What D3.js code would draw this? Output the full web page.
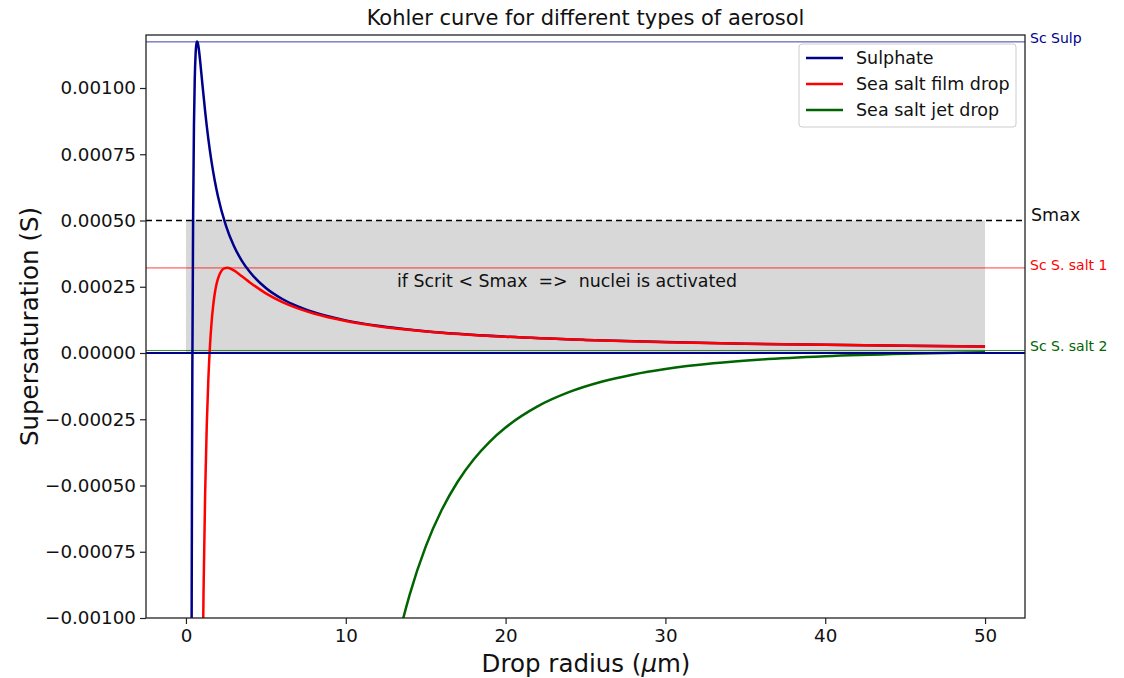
<!DOCTYPE html>
<html><head><meta charset="utf-8">
<script src="https://cdn.jsdelivr.net/npm/d3@7"></script>
<style>
body{margin:0;background:#fff;}
text{font-family:"DejaVu Sans",sans-serif;}
</style></head>
<body><svg id="c" width="1124" height="678"></svg>
<script>
// ---- data ----
const sulphateR = [0.35,0.36,0.38,0.40,0.45,0.5,0.55,0.6,0.65,0.7,0.75,0.8,0.9,1.0,1.2,1.4,1.6,1.8,2.0,2.5,3,3.5,4,5,6,7,8,10,12,15,20,25,30,35,40,45,50];
const sulphateS = [-0.001174,-0.000891,-0.000425,-0.0000634,0.000531,0.000856,0.0010325,0.0011238,0.0011648,0.0011754,0.0011677,0.0011489,0.0010947,0.0010325,0.0009117,0.000808,0.0007221,0.000651,0.0005918,0.0004807,0.0004039,0.0003479,0.0003054,0.0002452,0.0002047,0.0001757,0.0001539,0.0001232,0.0001027,0.0000822,0.0000617,0.0000494,0.0000411,0.0000353,0.0000309,0.0000274,0.0000247];
const filmR = [1.0,1.1,1.2,1.3,1.4,1.5,1.6,1.7,1.8,1.9,2.0,2.2,2.4,2.6,2.8,3.0,3.5,4,5,6,7,8,10,12,15,20,25,30,35,40,45,50];
const filmS = [-0.001461,-0.000903,-0.000531,-0.0002775,-0.0001007,0.0000242,0.0001133,0.0001773,0.0002234,0.0002566,0.0002801,0.0003078,0.0003192,0.0003213,0.0003179,0.0003115,0.0002897,0.0002664,0.0002252,0.0001932,0.0001684,0.000149,0.0001207,0.0001013,0.0000815,0.0000614,0.0000492,0.000041,0.0000352,0.0000308,0.0000274,0.0000247];
const jetR = [13,13.6,14,15,16,17,18,19,20,22,24,26,28,30,33,36,40,45,50];
const jetS = [-0.0011536,-0.001,-0.0009115,-0.0007305,-0.0005926,-0.0004857,-0.0004018,-0.000335,-0.0002812,-0.0002015,-0.000147,-0.0001086,-0.0000809,-0.0000605,-0.0000389,-0.0000245,-0.000012,-0.0000027,0.0000027];
const seriesNames = ["Sulphate","Sea salt film drop","Sea salt jet drop"];
const seriesColors = ["#00008b","#ff0000","#006400"];
const scCrit = [0.001174, 0.000321, 0.0000095];
const scLabels = ["Sc Sulp","Sc S. salt 1","Sc S. salt 2"];
const smax = 0.0005;
const shadeR = [0, 50];
const xTicks = [0,10,20,30,40,50];
const yTicks = [-0.001,-0.00075,-0.0005,-0.00025,0,0.00025,0.0005,0.00075,0.001];

// ---- layout ----
const L=146,R=1025,T=35,B=618;
const svg=d3.select("#c");
const x=d3.scaleLinear().domain([-2.5,52.5]).range([L,R]);
const y=d3.scaleLinear().domain([-0.001,0.0012]).range([B,T]);

svg.append("clipPath").attr("id","clip").append("rect")
  .attr("x",L).attr("y",T).attr("width",R-L).attr("height",B-T);
const g=svg.append("g").attr("clip-path","url(#clip)");

// shaded area
g.append("path").datum(shadeR)
  .attr("d",d3.area().x(d=>x(d)).y0(y(0)).y1(y(smax)))
  .attr("fill","#d8d8d8");

// Smax dashed
g.append("line").attr("x1",L).attr("x2",R).attr("y1",y(smax)).attr("y2",y(smax))
  .attr("stroke","#000").attr("stroke-width",1.5).attr("stroke-dasharray","6,4");

// Sc lines
scCrit.forEach((v,i)=>{
  g.append("line").attr("x1",L).attr("x2",R).attr("y1",y(v)).attr("y2",y(v))
   .attr("stroke",seriesColors[i]).attr("stroke-width",1).attr("opacity",0.75);
});

const line=d3.line().x(d=>x(d[0])).y(d=>y(d[1]));
const series=[[sulphateR,sulphateS],[filmR,filmS],[jetR,jetS]];
series.forEach((s,i)=>{
  const pts=s[0].map((r,k)=>[r,s[1][k]]);
  g.append("path").datum(pts).attr("d",line.curve(d3.curveMonotoneX))
   .attr("fill","none").attr("stroke",seriesColors[i]).attr("stroke-width",2.5);
});

// zero line
g.append("line").attr("x1",L).attr("x2",R).attr("y1",y(0)).attr("y2",y(0))
  .attr("stroke","#00008b").attr("stroke-width",2.2);

// annotation
svg.append("text").attr("x",397).attr("y",287).attr("font-size",17.4).attr("fill","#111")
  .attr("xml:space","preserve").text("if Scrit < Smax  =>  nuclei is activated");

// axes frame
svg.append("rect").attr("x",L).attr("y",T).attr("width",R-L).attr("height",B-T)
  .attr("fill","none").attr("stroke","#222").attr("stroke-width",1.3);

// axes
const fmt=d3.format(".5f");
const ya=svg.append("g").attr("transform",`translate(${L},0)`)
  .call(d3.axisLeft(y).tickValues(yTicks).tickFormat(fmt).tickSize(6).tickPadding(4));
ya.select(".domain").remove();
ya.selectAll("text").attr("font-size",18.3).attr("font-family","DejaVu Sans").attr("fill","#111");
ya.selectAll("line").attr("stroke","#222").attr("stroke-width",1.2);

const xa=svg.append("g").attr("transform",`translate(0,${B})`)
  .call(d3.axisBottom(x).tickValues(xTicks).tickSize(6).tickPadding(5));
xa.select(".domain").remove();
xa.selectAll("text").attr("font-size",18.3).attr("font-family","DejaVu Sans").attr("fill","#111");
xa.selectAll("line").attr("stroke","#222").attr("stroke-width",1.2);

// titles
svg.append("text").attr("x",(L+R)/2).attr("y",25).attr("text-anchor","middle")
  .attr("font-size",21).attr("fill","#111").text("Kohler curve for different types of aerosol");
svg.append("text").attr("transform",`translate(38,${(T+B)/2}) rotate(-90)`)
  .attr("text-anchor","middle").attr("font-size",24.5).attr("fill","#111").text("Supersaturation (S)");
const xl=svg.append("text").attr("x",586).attr("y",672).attr("text-anchor","middle")
  .attr("font-size",24.5).attr("fill","#111");
xl.append("tspan").text("Drop radius (");
xl.append("tspan").attr("font-style","italic").text("μ");
xl.append("tspan").text("m)");

// right labels
svg.append("text").attr("x",1031).attr("y",y(smax)).attr("dy","0.05em").attr("font-size",17.5)
  .attr("fill","#111").text("Smax");
const scLabelY=[38,265,346];
scLabels.forEach((t,i)=>{
  svg.append("text").attr("x",1030).attr("y",scLabelY[i]).attr("dy","0.35em")
   .attr("font-size",14).attr("fill",seriesColors[i]).text(t);
});

// legend
const lg=svg.append("g");
lg.append("rect").attr("x",799).attr("y",44).attr("width",217).attr("height",83).attr("rx",3)
  .attr("fill","#fff").attr("fill-opacity",0.85).attr("stroke","#ccc");
seriesNames.forEach((n,i)=>{
  const yy=58+i*26;
  lg.append("line").attr("x1",806).attr("x2",843).attr("y1",yy).attr("y2",yy)
    .attr("stroke",seriesColors[i]).attr("stroke-width",2.5);
  lg.append("text").attr("x",856).attr("y",yy).attr("dy","0.35em").attr("font-size",17.5)
    .attr("fill","#111").text(n);
});
</script></body></html>
